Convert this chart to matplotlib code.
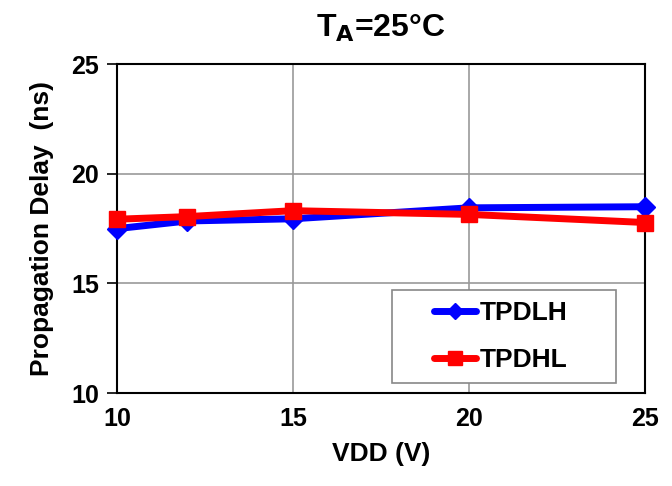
import matplotlib
matplotlib.use('Agg')
import matplotlib.pyplot as plt
from matplotlib.patches import Rectangle

plt.rcParams['font.family'] = ['Liberation Sans', 'DejaVu Sans']
plt.rcParams['font.weight'] = 'bold'

# 数据
vdd = [10, 12, 15, 20, 25]
tpdlh = [17.5, 17.85, 17.95, 18.45, 18.5]
tpdhl = [17.93, 18.05, 18.32, 18.15, 17.78]

fig = plt.figure(figsize=(6.72, 4.86), dpi=100)
ax = fig.add_axes([0.174, 0.191, 0.786, 0.677])

ax.plot(vdd, tpdlh, color='#0000ff', lw=5, marker='D', ms=10, label='TPDLH',
        solid_capstyle='round', clip_on=False, zorder=3)
ax.plot(vdd, tpdhl, color='#ff0000', lw=5, marker='s', ms=12, label='TPDHL',
        solid_capstyle='round', clip_on=False, zorder=4)

ax.set_xlim(10, 25)
ax.set_ylim(10, 25)
ax.set_xticks([10, 15, 20, 25])
ax.set_yticks([10, 15, 20, 25])
ax.grid(True, color='#999999', lw=1.2)
ax.set_axisbelow(True)
for s in ax.spines.values():
    s.set_linewidth(1.5)
    s.set_color('black')
ax.tick_params(axis='y', direction='out', length=7, width=1.2, labelsize=18, pad=6)
ax.tick_params(axis='x', direction='out', length=0, labelsize=18, pad=10)

ax.set_xlabel('VDD (V)', fontsize=19, fontweight='bold', labelpad=8)
ax.set_ylabel('Propagation Delay  (ns)', fontsize=19, fontweight='bold', labelpad=12)
ax.set_title(r'T$_\mathbf{A}$=25°C', fontsize=23, fontweight='bold', pad=20)

# 图例框
ax.add_patch(Rectangle((0.521, 0.030), 0.424, 0.283, transform=ax.transAxes,
                       facecolor='white', edgecolor='#888888', lw=1.2, zorder=5))
leg = ax.legend(loc='center left', bbox_to_anchor=(0.6, 0.172), fontsize=19,
                frameon=False, handlelength=1.6, borderpad=0, labelspacing=0.85,
                handletextpad=0.15, borderaxespad=0, markerscale=0.8)
leg.set_zorder(6)
for t in leg.get_texts():
    t.set_fontweight('bold')

fig.savefig('out.png', dpi=100)
